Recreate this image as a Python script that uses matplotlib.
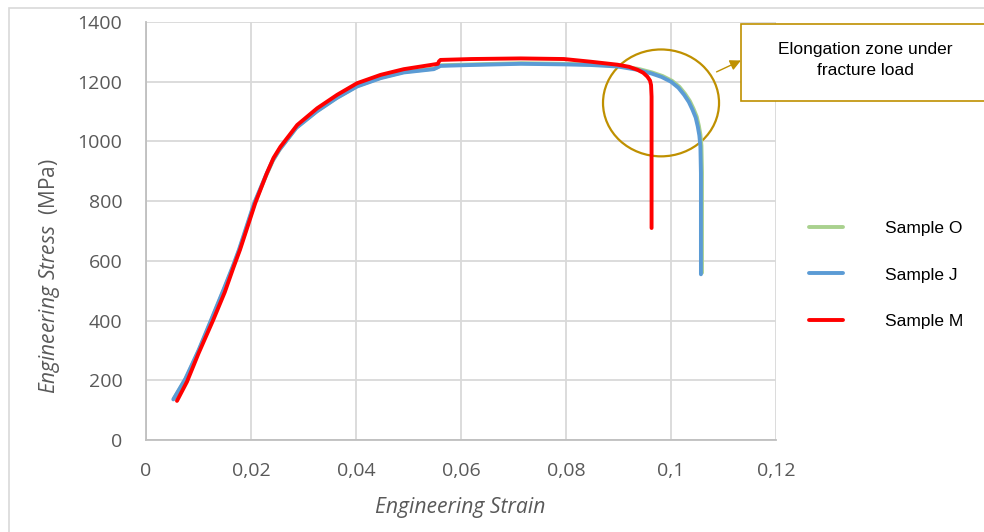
import numpy as np
import matplotlib
matplotlib.use("Agg")
import matplotlib.pyplot as plt
from matplotlib.patches import Ellipse, Rectangle

# strain / stress
strain_J = [0.0052, 0.0075, 0.0100, 0.0124, 0.0148, 0.0165, 0.0177, 0.0206, 0.0228, 0.0241, 0.0254, 0.0286, 0.0325, 0.0363, 0.0402,
            0.0447, 0.0491, 0.0548, 0.0553, 0.0561, 0.0620, 0.0714, 0.0796, 0.0847, 0.0898, 0.0936, 0.0962, 0.0982,
            0.1000, 0.1014, 0.1025, 0.1034, 0.1041, 0.1047, 0.1051, 0.1054, 0.1056, 0.1057, 0.1057, 0.1057]
stress_J = [136, 205, 300, 402, 505, 580, 637, 793, 885, 935, 972, 1045, 1100, 1145, 1184,
            1212, 1231, 1242, 1246, 1253, 1256, 1260, 1258, 1256, 1251, 1240, 1228, 1216,
            1200, 1180, 1156, 1132, 1106, 1080, 1050, 1020, 983, 894, 700, 555]

strain_O = [0.0053, 0.0076, 0.0101, 0.0125, 0.0149, 0.0166, 0.0178, 0.0207, 0.0229, 0.0242, 0.0255, 0.0287, 0.0326, 0.0364, 0.0403,
            0.0448, 0.0492, 0.0549, 0.0554, 0.0562, 0.0621, 0.0715, 0.0797, 0.0848, 0.0900, 0.0938, 0.0964, 0.0984,
            0.1002, 0.1016, 0.1027, 0.1036, 0.1043, 0.1049, 0.1053, 0.1056, 0.1058, 0.1059, 0.1059, 0.1059]
stress_O = [138, 206, 301, 403, 506, 581, 638, 794, 886, 937, 974, 1047, 1102, 1147, 1186,
            1214, 1233, 1244, 1248, 1255, 1258, 1262, 1260, 1258, 1253, 1243, 1231, 1219,
            1203, 1183, 1159, 1135, 1109, 1083, 1053, 1023, 986, 897, 703, 560]

strain_M = [0.0059, 0.0078, 0.0100, 0.0128, 0.0150, 0.0167, 0.0179, 0.0208, 0.0230, 0.0243, 0.0256, 0.0288, 0.0326, 0.0364, 0.0402,
            0.0447, 0.0491, 0.0542, 0.0556, 0.0558, 0.0561, 0.0620, 0.0714, 0.0796, 0.0847, 0.0898, 0.0920, 0.0936,
            0.0947, 0.0955, 0.0960, 0.0962, 0.0963, 0.0963, 0.0963]
stress_M = [131, 195, 290, 402, 495, 580, 637, 793, 893, 945, 982, 1055, 1111, 1156, 1195,
            1223, 1242, 1256, 1260, 1268, 1273, 1276, 1278, 1276, 1267, 1257, 1250, 1240,
            1230, 1217, 1204, 1189, 1150, 900, 710]

x_ticks = [0, 0.02, 0.04, 0.06, 0.08, 0.1, 0.12]
x_tick_labels = ["0", "0,02", "0,04", "0,06", "0,08", "0,1", "0,12"]
y_ticks = [0, 200, 400, 600, 800, 1000, 1200, 1400]

plt.rcParams['mathtext.fontset'] = 'custom'
plt.rcParams['mathtext.it'] = 'Open Sans:italic'
plt.rcParams['mathtext.rm'] = 'Open Sans'

fig = plt.figure(figsize=(9.84, 5.32), dpi=100)
ax = fig.add_axes([146/984, 1-440/532, 630/984, 418/532])

# outer chart border
fig.patches.append(Rectangle((9/984, -0.05), 1.1, 1-8/532+0.05, transform=fig.transFigure,
                             fill=False, edgecolor='#D9D9D9', linewidth=1.2))

for xs, ys, c, lab in [(strain_O, stress_O, '#A9D18E', 'Sample O'),
                       (strain_J, stress_J, '#5B9BD5', 'Sample J'),
                       (strain_M, stress_M, '#FF0000', 'Sample M')]:
    ax.plot(xs, ys, color=c, lw=2.8, label=lab, solid_capstyle='round', solid_joinstyle='round')

ax.set_xlim(0, 0.12)
ax.set_ylim(0, 1400)
ax.set_xticks(x_ticks)
ax.set_xticklabels(x_tick_labels)
ax.set_yticks(y_ticks)
ax.grid(True, color='#D9D9D9', linewidth=1.3)
ax.set_axisbelow(True)
for s in ['top', 'right']:
    ax.spines[s].set_visible(False)
for s in ['left', 'bottom']:
    ax.spines[s].set_color('#BFBFBF')
    ax.spines[s].set_linewidth(1.3)
ax.tick_params(length=0, labelsize=14, labelcolor='#595959')
ax.tick_params(axis='x', pad=16)
ax.tick_params(axis='y', pad=17)
for lab in ax.get_xticklabels() + ax.get_yticklabels():
    lab.set_fontfamily('Open Sans')

fig.text(460/984, 1-508/532, 'Engineering Strain', fontsize=15.2, style='italic',
         family='Open Sans', color='#595959', ha='center', va='center')
fig.text(50/984, 1-276/532, r'$\mathit{Engineering\ Stress}$  (MPa)', fontsize=15,
         family='Open Sans', color='#595959', ha='center', va='center', rotation=90)

# circled zone + callout
ax.add_patch(Ellipse((0.0981, 1129), 0.0221, 358, fill=False, edgecolor='#BF9000', lw=1.6, clip_on=False))
ax.annotate('', xy=(0.1138, 1275), xytext=(0.1082, 1229),
            arrowprops=dict(arrowstyle='-|>', color='#BF9000', lw=1.0, mutation_scale=16),
            annotation_clip=False)
fig.patches.append(Rectangle((741/984, 1-101/532), 0.3, 77/532, transform=fig.transFigure,
                             fill=True, facecolor='white', edgecolor='#BF9000', linewidth=1.2))
fig.text(865/984, 1-60/532, 'Elongation zone under\nfracture load', fontsize=12.5,
         family='Liberation Sans', color='#000000', ha='center', va='center', linespacing=1.55)

leg = fig.legend(loc='upper left', bbox_to_anchor=(809/984, 1-221/532), frameon=False,
                 handlelength=1.95, handletextpad=2.4, labelspacing=1.8, borderpad=0,
                 borderaxespad=0, prop={'family': 'Liberation Sans', 'size': 12.5})

fig.savefig('out.png', dpi=100)
